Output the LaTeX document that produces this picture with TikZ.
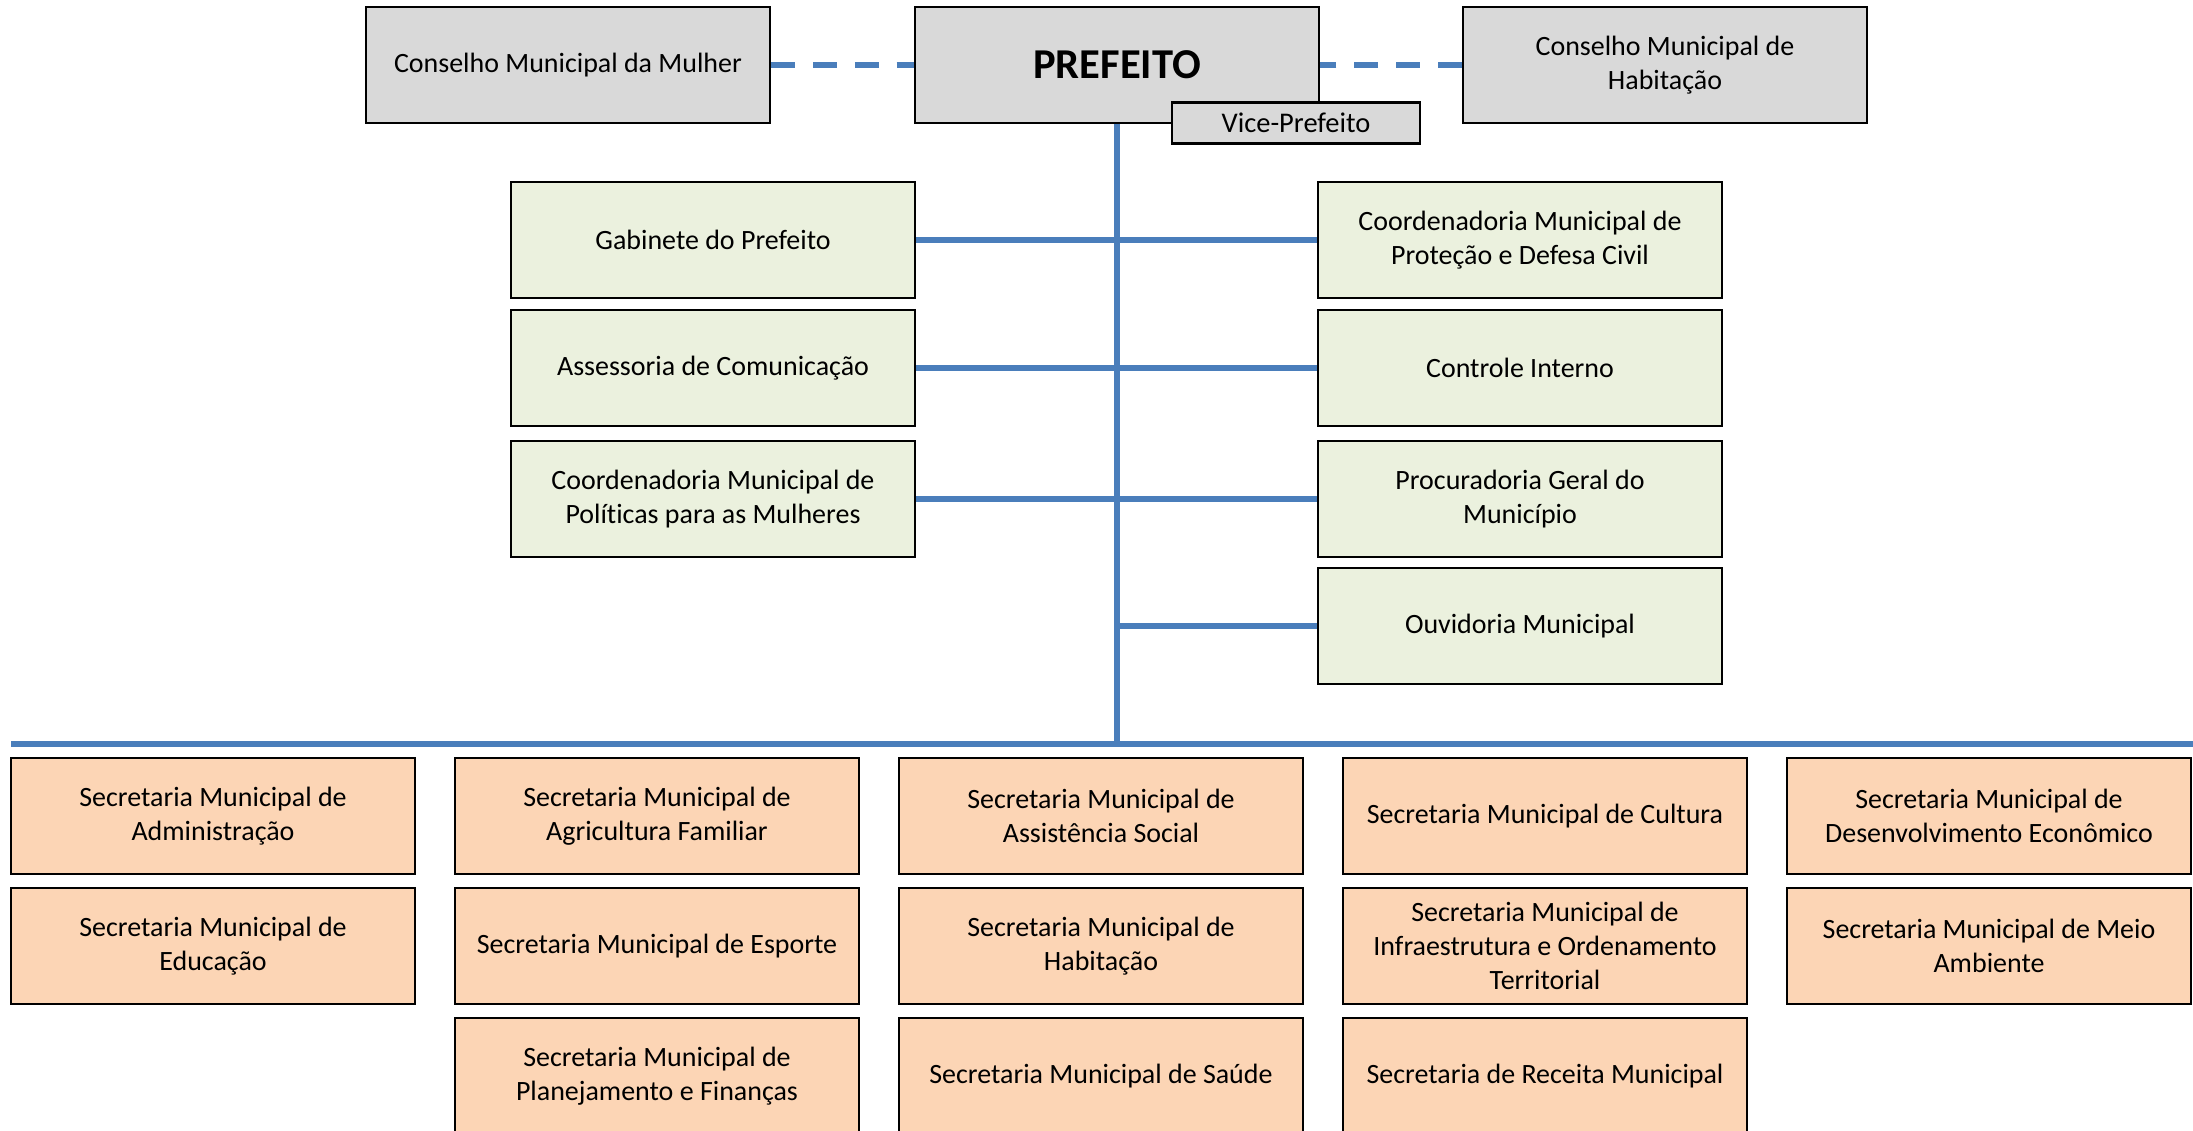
\documentclass[tikz,border=0pt]{standalone}
\usepackage{fontspec}
\setmainfont{Carlito}[Ligatures=CommonOff]
\definecolor{azul}{HTML}{4A7EBB}
\definecolor{cinza}{HTML}{D9D9D9}
\definecolor{verde}{HTML}{EBF1DE}
\definecolor{laranja}{HTML}{FCD5B5}

\begin{document}
\begin{tikzpicture}[x=0.01cm, y=-0.01cm,
    caixa/.style={draw=black, line width=0.6pt, minimum width=4.04cm, minimum height=1.16cm,
      align=center, inner sep=2pt, font=\fontsize{7.95}{9.6}\selectfont},
    topo/.style={caixa, fill=cinza},
    assessor/.style={caixa, fill=verde},
    secretaria/.style={caixa, fill=laranja},
    ligacao/.style={azul, line width=1.7pt},
    tracejada/.style={azul, line width=1.7pt, dash pattern=on 6.8pt off 5.1pt}]
    \useasboundingbox (0,0) rectangle (2193,1131);

    % linha principal
    \coordinate (barraE) at (11,744);
    \coordinate (barraD) at (2193,744);
    \draw[ligacao] (barraE)--(barraD);

    % topo
    \node[topo] (conmulher) at (568,65) {Conselho Municipal da Mulher};
    \node[topo, font=\fontsize{12.1}{14}\selectfont\bfseries] (prefeito) at (1117,65) {PREFEITO};
    \node[topo] (conhab) at (1665,65) {Conselho Municipal de\\Habitação};
    \node[topo, minimum width=2.47cm, minimum height=0.41cm, inner sep=1pt,
      font=\fontsize{8.1}{9.6}\selectfont] (vice) at (1296,123) {Vice-Prefeito};
    \draw[tracejada] (conmulher.east)--(prefeito.west);
    \draw[tracejada] (conhab.west)--(prefeito.east);
    \draw[ligacao] (prefeito.south)--(prefeito.south |- barraE);

    % assessorias
    \node[assessor] (gabinete) at (713,240) {Gabinete do Prefeito};
    \node[assessor] (comunicacao) at (713,368) {Assessoria de Comunicação};
    \node[assessor] (mulheres) at (713,499) {Coordenadoria Municipal de\\Políticas para as Mulheres};
    \node[assessor] (defesa) at (1520,240) {Coordenadoria Municipal de\\Proteção e Defesa Civil};
    \node[assessor] (controle) at (1520,368) {Controle Interno};
    \node[assessor] (procuradoria) at (1520,499) {Procuradoria Geral do\\Município};
    \node[assessor] (ouvidoria) at (1520,626) {Ouvidoria Municipal};
    \draw[ligacao] (gabinete.east)--(defesa.west);
    \draw[ligacao] (comunicacao.east)--(controle.west);
    \draw[ligacao] (mulheres.east)--(procuradoria.west);
    \draw[ligacao] (prefeito.south |- ouvidoria.west)--(ouvidoria.west);

    % secretarias
    \node[secretaria] (administracao) at (213,816) {Secretaria Municipal de\\Administração};
    \node[secretaria] (educacao) at (213,946) {Secretaria Municipal de\\Educação};
    \node[secretaria] (agricultura) at (657,816) {Secretaria Municipal de\\Agricultura Familiar};
    \node[secretaria] (esporte) at (657,946) {Secretaria Municipal de Esporte};
    \node[secretaria] (planejamento) at (657,1076) {Secretaria Municipal de\\Planejamento e Finanças};
    \node[secretaria] (social) at (1101,816) {Secretaria Municipal de\\Assistência Social};
    \node[secretaria] (habitacao) at (1101,946) {Secretaria Municipal de\\Habitação};
    \node[secretaria] (saude) at (1101,1076) {Secretaria Municipal de Saúde};
    \node[secretaria] (cultura) at (1545,816) {Secretaria Municipal de Cultura};
    \node[secretaria] (infraestrutura) at (1545,946) {Secretaria Municipal de\\Infraestrutura e Ordenamento\\Territorial};
    \node[secretaria] (receita) at (1545,1076) {Secretaria de Receita Municipal};
    \node[secretaria] (economico) at (1989,816) {Secretaria Municipal de\\Desenvolvimento Econômico};
    \node[secretaria] (ambiente) at (1989,946) {Secretaria Municipal de Meio\\Ambiente};
\end{tikzpicture}
\end{document}
